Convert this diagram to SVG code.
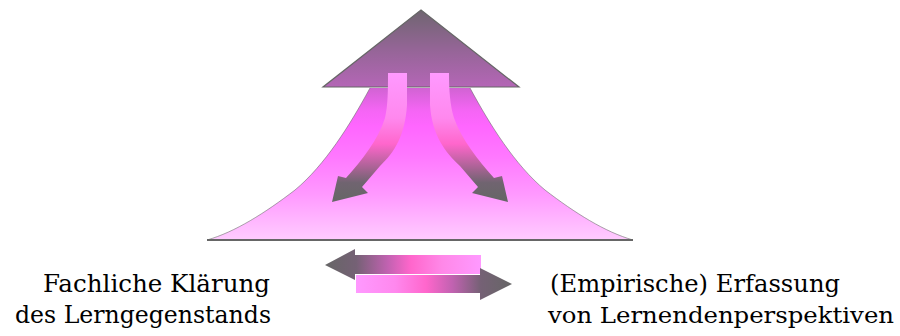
<svg xmlns="http://www.w3.org/2000/svg" width="900" height="336" viewBox="0 0 900 336">
  <style>
    .lbl { font-family: "DejaVu Serif", "Liberation Serif", serif; font-size: 24px; fill: #000; }
    .lbl2 { font-size: 23px; }
    .edge { stroke: #666666; stroke-width: 1.2; stroke-linejoin: miter; }
  </style>
  <defs>
    <linearGradient id="gMount" gradientUnits="userSpaceOnUse" x1="0" y1="88" x2="0" y2="240">
      <stop offset="0" stop-color="#d163d3"/>
      <stop offset="0.15" stop-color="#f565f5"/>
      <stop offset="0.25" stop-color="#ff66ff"/>
      <stop offset="0.45" stop-color="#ff78ff"/>
      <stop offset="0.7" stop-color="#ff99ff"/>
      <stop offset="0.9" stop-color="#ffbbff"/>
      <stop offset="1" stop-color="#ffccff"/>
    </linearGradient>
    <linearGradient id="gHead" gradientUnits="userSpaceOnUse" x1="0" y1="10" x2="0" y2="87">
      <stop offset="0" stop-color="#6f6570"/>
      <stop offset="0.5" stop-color="#946596"/>
      <stop offset="1" stop-color="#b466b6"/>
    </linearGradient>
    <linearGradient id="gInner" gradientUnits="userSpaceOnUse" x1="0" y1="73" x2="0" y2="202">
      <stop offset="0" stop-color="#ff99ff"/>
      <stop offset="0.35" stop-color="#ff88ee"/>
      <stop offset="0.55" stop-color="#ff66cc"/>
      <stop offset="0.72" stop-color="#b06399"/>
      <stop offset="0.85" stop-color="#706470"/>
      <stop offset="1" stop-color="#666666"/>
    </linearGradient>
    <linearGradient id="gLeftArr" gradientUnits="userSpaceOnUse" x1="325" y1="0" x2="481" y2="0">
      <stop offset="0" stop-color="#666666"/>
      <stop offset="0.2" stop-color="#756175"/>
      <stop offset="0.4" stop-color="#c062b0"/>
      <stop offset="0.55" stop-color="#ff66cc"/>
      <stop offset="0.75" stop-color="#ff88e8"/>
      <stop offset="1" stop-color="#ff99ff"/>
    </linearGradient>
    <linearGradient id="gRightArr" gradientUnits="userSpaceOnUse" x1="356" y1="0" x2="512" y2="0">
      <stop offset="0" stop-color="#ff99ff"/>
      <stop offset="0.25" stop-color="#ff88ee"/>
      <stop offset="0.45" stop-color="#ff66cc"/>
      <stop offset="0.62" stop-color="#c062b0"/>
      <stop offset="0.8" stop-color="#756175"/>
      <stop offset="1" stop-color="#666666"/>
    </linearGradient>
  </defs>

  <g id="mountain">
    <path d="M370,88 L470,88 C490,125 515,165 545,190 C575,213 605,232 633,240 L207,240 C235,232 265,213 295,190 C325,165 350,125 370,88 Z" fill="url(#gMount)"/>
    <path d="M470,88 C490,125 515,165 545,190 C575,213 605,232 633,240 M207,240 C235,232 265,213 295,190 C325,165 350,125 370,88" fill="none" stroke="#666666" stroke-width="0.8" stroke-opacity="0.7"/>
    <line x1="207" y1="240" x2="633" y2="240" stroke="#666666" stroke-width="2.2"/>
  </g>

  <g id="up-arrowhead">
    <path d="M421,10 L519,87 L323,87 Z" fill="url(#gHead)" class="edge"/>
  </g>

  <g id="inner-arrows">
    <g id="inner-left">
      <path d="M388,73 L407,73 L407,105 C405,135 395,152 380,166 L362,187 L368,193 L332,202 L338,176 L346,178 C362,160 378,140 385,118 C388,105 388,90 388,73 Z" fill="url(#gInner)"/>
    </g>
    <g id="inner-right" transform="translate(840,0) scale(-1,1)">
      <path d="M391,73 L410,73 L410,105 C408,135 395,152 380,166 L362,187 L368,193 L332,202 L338,176 L346,178 C362,160 378,140 386,118 C390,105 391,90 391,73 Z" fill="url(#gInner)"/>
    </g>
  </g>

  <g id="exchange-arrows">
    <g id="arrow-to-left">
      <path d="M325,265 L355,249 L355,255 L481,255 L481,274 L355,274 L355,280 Z" fill="url(#gLeftArr)"/>
    </g>
    <g id="arrow-to-right">
      <path d="M356,275 L480,275 L480,268 L512,284 L480,300 L480,293 L356,293 Z" fill="url(#gRightArr)"/>
    </g>
  </g>

  <g id="label-left">
    <text class="lbl" x="43" y="292" textLength="227" lengthAdjust="spacingAndGlyphs">Fachliche Klärung</text>
    <text class="lbl" x="15" y="323" textLength="256" lengthAdjust="spacingAndGlyphs">des Lerngegenstands</text>
  </g>
  <g id="label-right">
    <text class="lbl" x="550" y="292" textLength="290" lengthAdjust="spacingAndGlyphs">(Empirische) Erfassung</text>
    <text class="lbl lbl2" x="548" y="323" textLength="346" lengthAdjust="spacingAndGlyphs">von Lernendenperspektiven</text>
  </g>
</svg>
